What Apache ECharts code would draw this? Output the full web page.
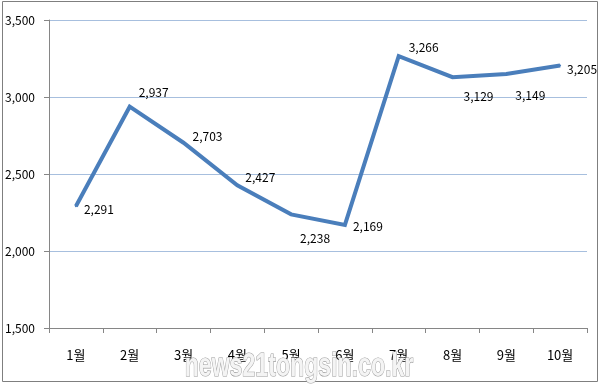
<!DOCTYPE html>
<html>
<head>
<meta charset="utf-8">
<script src="https://cdn.jsdelivr.net/npm/echarts@6/dist/echarts.min.js"></script>
<style>
html,body{margin:0;padding:0;background:#fff;}
#c{width:600px;height:384px;}
</style>
</head>
<body>
<div id="c"></div>
<script>
var categories = ['1월','2월','3월','4월','5월','6월','7월','8월','9월','10월'];
var values = [2291, 2937, 2703, 2427, 2238, 2169, 3266, 3129, 3149, 3205];
var yTicks = [1500, 2000, 2500, 3000, 3500];
var labelOffsets = [[23,3],[24,-14],[24,-6],[23,-8],[24,24],[23,1],[25,-9],[26,19],[24,21],[22,4]];

var FONT = "'Liberation Sans Narrow', 'Noto Sans CJK KR', sans-serif";
var chart = echarts.init(document.getElementById('c'), null, {renderer:'canvas'});

var seriesData = values.map(function(v, i){
  return {value: v, label: {offset: labelOffsets[i]}};
});

chart.setOption({
  animation: false,
  backgroundColor: '#ffffff',
  grid: {left: 49, right: 13, top: 20, bottom: 56},
  xAxis: {
    type: 'category',
    data: categories,
    boundaryGap: true,
    axisLine: {lineStyle: {color: '#868686', width: 1}},
    axisTick: {show: true, length: 5, lineStyle: {color: '#868686'}},
    axisLabel: {color: '#000', fontFamily: FONT, fontSize: 13, margin: 21}
  },
  yAxis: {
    type: 'value',
    min: yTicks[0],
    max: yTicks[yTicks.length-1],
    interval: 500,
    axisLine: {show: true, lineStyle: {color: '#868686', width: 1}},
    axisTick: {show: true, length: 5, lineStyle: {color: '#868686'}},
    axisLabel: {
      color: '#000', fontFamily: FONT, fontSize: 12, margin: 14,
      formatter: function(v){ return v.toLocaleString('en-US'); }
    },
    splitLine: {show: true, lineStyle: {color: '#a7bfde', width: 1}}
  },
  series: [{
    type: 'line',
    data: seriesData,
    symbol: 'circle',
    symbolSize: 2,
    showSymbol: true,
    itemStyle: {color: '#4a7ebb'},
    lineStyle: {color: '#4a7ebb', width: 4, join: 'miter'},
    label: {
      show: true,
      position: 'inside',
      color: '#000',
      fontFamily: FONT,
      fontSize: 12,
      formatter: function(p){ return p.value.toLocaleString('en-US'); }
    },
    z: 3
  }],
  graphic: [
    {
      type: 'rect',
      shape: {x: 2.5, y: 1.5, width: 595, height: 380},
      style: {fill: 'none', stroke: '#7f7f7f', lineWidth: 1},
      z: 0, silent: true
    },
    {
      type: 'text',
      x: 299, y: 384,
      scaleX: 0.68,
      originX: 0, originY: 0,
      style: {
        text: 'news21tongsin.co.kr',
        fontFamily: "'Liberation Sans', Arial, sans-serif",
        fontWeight: 'bold',
        fontSize: 34,
        fill: '#f4f4f4',
        stroke: '#9a9a9a',
        lineWidth: 1.2,
        textAlign: 'center',
        textVerticalAlign: 'bottom'
      },
      z: 100, silent: true
    }
  ]
});
</script>
</body>
</html>
